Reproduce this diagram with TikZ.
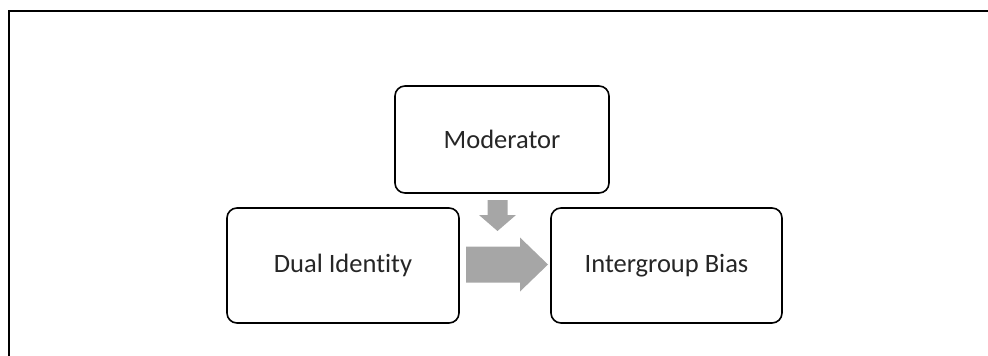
\documentclass[tikz,border=0pt]{standalone}
\usepackage{fontspec}
\setmainfont{Carlito}[Ligatures=NoCommon]
\usepackage{xcolor}
\usepackage{tikz}
\usetikzlibrary{calc}
\definecolor{Ink}{HTML}{262626}
\definecolor{Frame}{HTML}{000000}
\definecolor{Flow}{HTML}{A6A6A6}

\begin{document}
\begin{tikzpicture}[x=1pt,y=-1pt,
  card/.style={draw=Frame,line width=1.6pt,rounded corners=10pt,fill=white,
    inner sep=0pt,text=Ink,font=\fontsize{26.5}{30}\selectfont}]
\useasboundingbox (0,0) rectangle (988,356);
% open frame: top and left edges only
\draw[Frame,line width=2.2pt] (9,356)--(9,11)--(988,11);
\node[card,minimum width=214pt,minimum height=107pt] (mod) at (502,139.5) {Moderator};
\node[card,minimum width=232pt,minimum height=115pt] (dual) at (343,265.5) {Dual Identity};
\node[card,minimum width=231pt,minimum height=115pt] (bias) at (666.5,265.5) {Intergroup Bias};
% block arrows in the gap
\coordinate (gap) at ($(dual.east)!.5!(bias.west)$);
\fill[Flow] ($(gap)+(-39,-19)$) -- ($(gap)+(15,-19)$) -- ($(gap)+(15,-28)$)
  -- ($(gap)+(43,-1)$) -- ($(gap)+(15,26)$) -- ($(gap)+(15,17)$)
  -- ($(gap)+(-39,17)$) -- cycle;
\fill[Flow] (487.5,200) -- (507.5,200) -- (507.5,215) -- (516,215) -- (497.5,231)
  -- (479,215) -- (487.5,215) -- cycle;
\end{tikzpicture}
\end{document}
